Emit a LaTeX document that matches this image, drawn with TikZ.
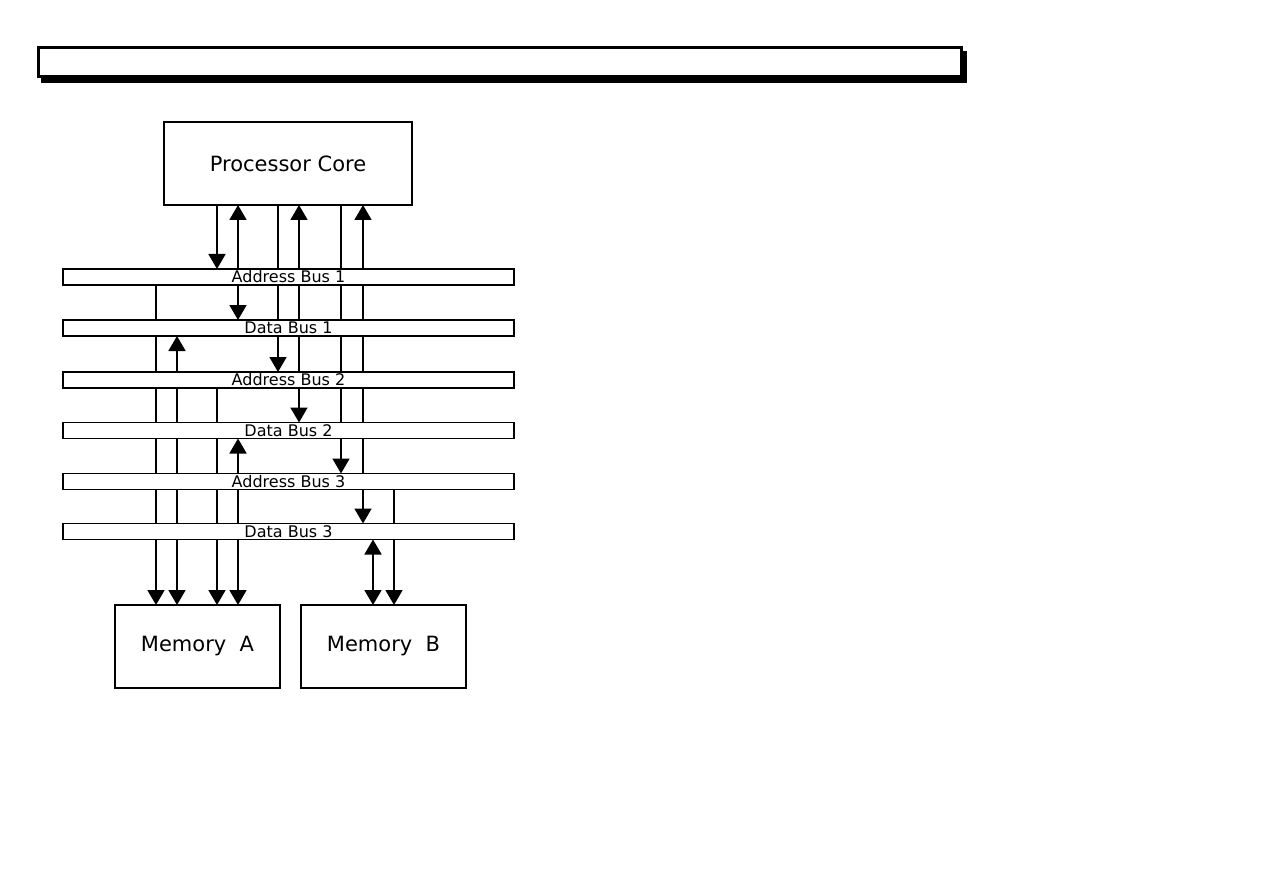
\documentclass[tikz,border=0pt]{standalone}
\usepackage{fontspec}
\setmainfont{DejaVu Sans}
\usetikzlibrary{arrows.meta}
\begin{document}
\begin{tikzpicture}[x=1pt,y=-1pt,
  bus/.style={draw, line width=1.6pt, minimum width=451pt, minimum height=16pt, inner sep=0pt, outer sep=0pt, font=\fontsize{16}{16}\selectfont},
  unit/.style={draw, line width=1.6pt, inner sep=0pt, outer sep=0pt, font=\fontsize{21}{21}\selectfont},
  conn/.style={line width=1.8pt},
  tip/.style={-{Triangle[width=17pt,length=15pt]}},
  dtip/.style={{Triangle[width=17pt,length=15pt]}-{Triangle[width=17pt,length=15pt]}}]
\useasboundingbox (0,0) rectangle (1263,893);
% title bar with shadow
\fill[black] (41,51) rectangle (967,83);
\node[fill=white, draw, line width=3pt, inner sep=0pt, minimum width=923pt, minimum height=29pt] (title) at (500,62) {};
% units
\node[unit, minimum width=248pt, minimum height=83pt] (core) at (288,163.5) {Processor Core};
\node[unit, minimum width=165pt, minimum height=83pt] (mema) at (197.5,646.5) {Memory\ \ A};
\node[unit, minimum width=165pt, minimum height=83pt] (memb) at (383.5,646.5) {Memory\ \ B};
% buses
\node[bus] (ab1) at (288.5,277) {Address Bus 1};
\node[bus] (db1) at (288.5,328) {Data Bus 1};
\node[bus] (ab2) at (288.5,380) {Address Bus 2};
\node[bus] (db2) at (288.5,430.5) {Data Bus 2};
\node[bus] (ab3) at (288.5,481.5) {Address Bus 3};
\node[bus] (db3) at (288.5,531.5) {Data Bus 3};
% columns
\coordinate (c1) at (156,0);
\coordinate (c2) at (177,0);
\coordinate (c3) at (217,0);
\coordinate (c4) at (238,0);
\coordinate (c5) at (278,0);
\coordinate (c6) at (299,0);
\coordinate (c7) at (341,0);
\coordinate (c8) at (363,0);
\coordinate (c9) at (373,0);
\coordinate (c10) at (394,0);
% gap 0: core -> ab1
\draw[conn,tip] (core.south -| c3) -- (ab1.north -| c3);
\draw[conn,tip] (ab1.north -| c4) -- (core.south -| c4);
\draw[conn] (ab1.north -| c5) -- (core.south -| c5);
\draw[conn,tip] (ab1.north -| c6) -- (core.south -| c6);
\draw[conn] (ab1.north -| c7) -- (core.south -| c7);
\draw[conn,tip] (ab1.north -| c8) -- (core.south -| c8);
% gap 1: ab1 -> db1
\draw[conn] (ab1.south -| c1) -- (db1.north -| c1);
\draw[conn,tip] (ab1.south -| c4) -- (db1.north -| c4);
\draw[conn] (ab1.south -| c5) -- (db1.north -| c5);
\draw[conn] (ab1.south -| c6) -- (db1.north -| c6);
\draw[conn] (ab1.south -| c7) -- (db1.north -| c7);
\draw[conn] (ab1.south -| c8) -- (db1.north -| c8);
% gap 2: db1 -> ab2
\draw[conn] (db1.south -| c1) -- (ab2.north -| c1);
\draw[conn,tip] (ab2.north -| c2) -- (db1.south -| c2);
\draw[conn,tip] (db1.south -| c5) -- (ab2.north -| c5);
\draw[conn] (db1.south -| c6) -- (ab2.north -| c6);
\draw[conn] (db1.south -| c7) -- (ab2.north -| c7);
\draw[conn] (db1.south -| c8) -- (ab2.north -| c8);
% gap 3: ab2 -> db2
\draw[conn] (ab2.south -| c1) -- (db2.north -| c1);
\draw[conn] (ab2.south -| c2) -- (db2.north -| c2);
\draw[conn] (ab2.south -| c3) -- (db2.north -| c3);
\draw[conn,tip] (ab2.south -| c6) -- (db2.north -| c6);
\draw[conn] (ab2.south -| c7) -- (db2.north -| c7);
\draw[conn] (ab2.south -| c8) -- (db2.north -| c8);
% gap 4: db2 -> ab3
\draw[conn] (db2.south -| c1) -- (ab3.north -| c1);
\draw[conn] (db2.south -| c2) -- (ab3.north -| c2);
\draw[conn] (db2.south -| c3) -- (ab3.north -| c3);
\draw[conn,tip] (ab3.north -| c4) -- (db2.south -| c4);
\draw[conn,tip] (db2.south -| c7) -- (ab3.north -| c7);
\draw[conn] (db2.south -| c8) -- (ab3.north -| c8);
% gap 5: ab3 -> db3
\draw[conn] (ab3.south -| c1) -- (db3.north -| c1);
\draw[conn] (ab3.south -| c2) -- (db3.north -| c2);
\draw[conn] (ab3.south -| c3) -- (db3.north -| c3);
\draw[conn] (ab3.south -| c4) -- (db3.north -| c4);
\draw[conn,tip] (ab3.south -| c8) -- (db3.north -| c8);
\draw[conn] (ab3.south -| c10) -- (db3.north -| c10);
% gap 6: db3 -> memories
\draw[conn,tip] (db3.south -| c1) -- (mema.north -| c1);
\draw[conn,tip] (db3.south -| c2) -- (mema.north -| c2);
\draw[conn,tip] (db3.south -| c3) -- (mema.north -| c3);
\draw[conn,tip] (db3.south -| c4) -- (mema.north -| c4);
\draw[conn,dtip] (db3.south -| c9) -- (memb.north -| c9);
\draw[conn,tip] (db3.south -| c10) -- (memb.north -| c10);
\end{tikzpicture}
\end{document}
